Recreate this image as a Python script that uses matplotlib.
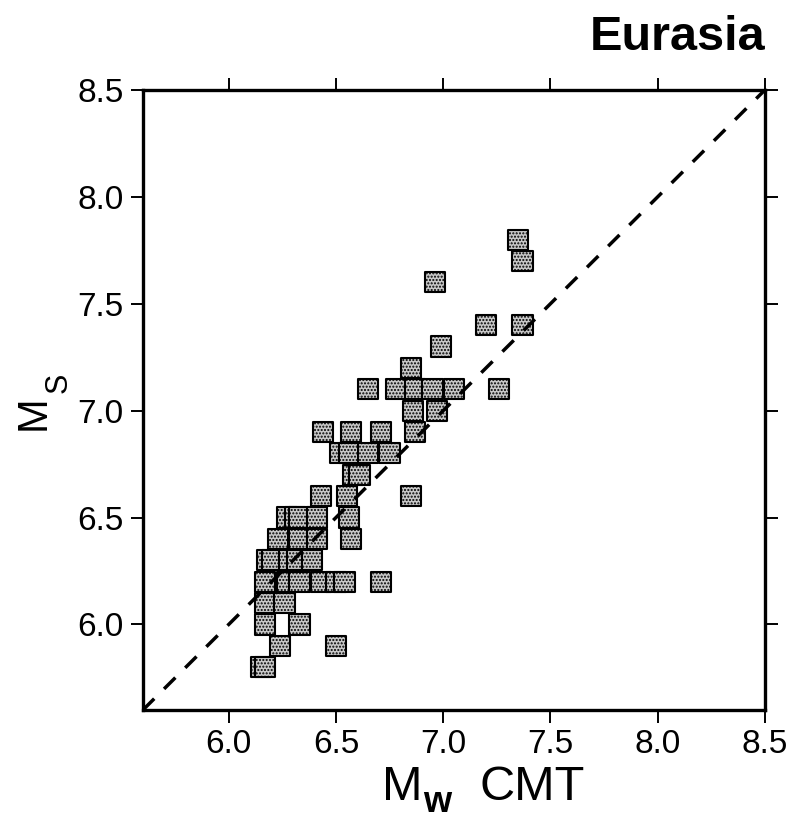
import matplotlib
matplotlib.use("Agg")
import matplotlib.pyplot as plt

plt.rcParams['font.family'] = ['Liberation Sans', 'DejaVu Sans']
plt.rcParams['hatch.linewidth'] = 1.0

# Mw (CMT) and Ms values
mw = [7.35, 7.37, 6.96, 7.20, 7.37, 6.99, 6.85,
      6.65, 6.78, 6.87, 6.95, 7.05, 7.26,
      6.86, 6.97,
      6.44, 6.57, 6.71, 6.87,
      6.52, 6.56, 6.65, 6.75,
      6.58, 6.61,
      6.43, 6.55, 6.85,
      6.27, 6.31, 6.33, 6.41, 6.56,
      6.23, 6.33, 6.41, 6.57,
      6.18, 6.20, 6.28, 6.32, 6.39,
      6.17, 6.27, 6.33, 6.43, 6.50, 6.54, 6.71,
      6.17, 6.26,
      6.17, 6.33,
      6.24, 6.50,
      6.15, 6.17]
ms = [7.8, 7.7, 7.6, 7.4, 7.4, 7.3, 7.2,
      7.1, 7.1, 7.1, 7.1, 7.1, 7.1,
      7.0, 7.0,
      6.9, 6.9, 6.9, 6.9,
      6.8, 6.8, 6.8, 6.8,
      6.7, 6.7,
      6.6, 6.6, 6.6,
      6.5, 6.5, 6.5, 6.5, 6.5,
      6.4, 6.4, 6.4, 6.4,
      6.3, 6.3, 6.3, 6.3, 6.3,
      6.2, 6.2, 6.2, 6.2, 6.2, 6.2, 6.2,
      6.1, 6.1,
      6.0, 6.0,
      5.9, 5.9,
      5.8, 5.8]

ticks = [6.0, 6.5, 7.0, 7.5, 8.0, 8.5]
lims = [5.6, 8.5]

W, H = 812, 830
fig = plt.figure(figsize=(W / 100, H / 100), dpi=100)
ax = fig.add_axes([0.176, 0.1446, 0.766, 0.747])

ax.scatter(mw, ms, marker='s', s=14.5**2, facecolor='#c8c8c8',
           edgecolor='black', linewidths=1.5, hatch='.....', zorder=2)
ax.plot(lims, lims, color='black', lw=2.5, dashes=(4.6, 4.0), zorder=3)

ax.set_xlim(lims)
ax.set_ylim(lims)
ax.set_xticks(ticks)
ax.set_yticks(ticks)
ax.set_xticklabels([f"{t:.1f}" for t in ticks])
ax.set_yticklabels([f"{t:.1f}" for t in ticks])
ax.tick_params(direction='out', length=9, width=1.4, labelsize=24,
               top=True, right=True, pad=5)
for sp in ax.spines.values():
    sp.set_linewidth(2.4)


def px(x, y):
    # pixel position (from top-left) -> figure fraction
    return x / W, 1 - y / H


fig.canvas.draw()
rend = fig.canvas.get_renderer()

# x label: M_w  CMT (subscript nearly full size)
x0, base = 382, 800
t = fig.text(*px(x0, base), "M", fontsize=35, va='baseline')
x0 += t.get_window_extent(rend).width + 1
t = fig.text(*px(x0, base + 12), "w", fontsize=26, fontweight='bold',
             va='baseline')
x0 += t.get_window_extent(rend).width + 28
fig.text(*px(x0, base), "CMT", fontsize=35, va='baseline')

# y label: M_S, rotated
y0, bx = 430, 45
t = fig.text(*px(bx, y0), "M", fontsize=30, rotation=90,
             rotation_mode='anchor', ha='left', va='baseline')
y0 -= t.get_window_extent(rend).height + 2
fig.text(*px(bx + 22, y0), "S", fontsize=22, rotation=90,
         rotation_mode='anchor', ha='left', va='baseline')

fig.text(*px(765, 50), "Eurasia", fontsize=35, fontweight='bold',
         ha='right', va='baseline')

fig.savefig("out.png", dpi=100)
